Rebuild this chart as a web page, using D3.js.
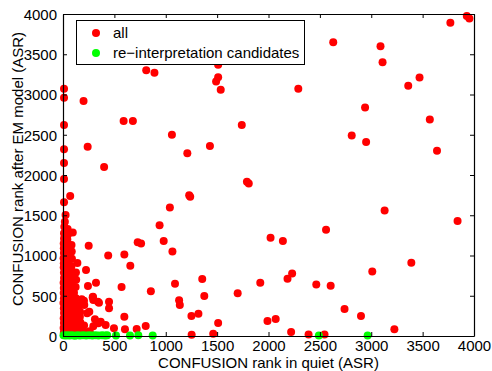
<!DOCTYPE html>
<html>
<head>
<meta charset="utf-8">
<script src="https://cdn.jsdelivr.net/npm/d3@7"></script>
<style>
  html, body { margin: 0; padding: 0; background: #fff; }
  svg { display: block; }
  text { font-family: "Liberation Sans", Arial, Helvetica, sans-serif; }
</style>
</head>
<body>
<svg id="chart" width="492" height="371"></svg>
<script>
// ---- data (x = CONFUSION rank in quiet, y = CONFUSION rank after EM model) ----
const xTicks = [0, 500, 1000, 1500, 2000, 2500, 3000, 3500, 4000];
const yTicks = [0, 500, 1000, 1500, 2000, 2500, 3000, 3500, 4000];
const xLabel = "CONFUSION rank in quiet (ASR)";
const yLabel = "CONFUSION rank after EM model (ASR)";
const seriesNames = ["all", "re\u2212interpretation candidates"];

const allX = [
  10,10,10,10,10,10,200,240,400,590,680,810,890,1060,1210,1430,1510,1510,1490,1535,1740,1790,1808,
  2630,3090,3110,2290,2940,3360,3470,3570,2810,2950,3640,3770,3930,3955,
  3130,3840,2560,2020,2140,3390,3010,2230,2185,1920,2465,2605,2740,2900,1990,2070,3225,2220,2390,2545,
  1700,1040,940,980,1065,1090,1355,1375,1130,1137,1250,1318,1510,1252,1462,855,1228,1238,
  70,10,25,18,13,95,10,250,20,440,597,655,727,760,570,321,243,224,140,107,204,289,350,448,448,235,597,311,344,415,496,603,717,805,
  // dense cluster near the origin
  8,6,9,7,10,8,5,9,7,8,6,10,9,7,8,6,9,8,7,10,
  45,42,48,44,46,43,47,45,41,49,44,46,42,48,45,43,47,44,46,42,48,45,
  85,88,82,86,84,87,83,89,85,81,86,84,88,82,87,85,83,
  125,128,122,126,124,127,121,125,123,128,126,
  165,162,168,164,166,160,182,
  210,205,207,
  260,295,256,295,367,340,292
];
const allY = [
  3070,2960,2620,2320,2150,1950,2920,2350,2100,2670,2670,3300,3270,2500,2270,2360,3370,3215,3160,3060,2620,1915,1893,
  3650,3600,3400,3070,2840,3110,3210,2690,2490,2410,2300,3890,3975,3945,
  1560,1430,1320,1220,1180,910,800,775,710,660,640,625,335,250,185,210,85,50,20,20,
  530,1595,1375,1180,1050,650,708,497,443,385,250,275,160,15,28,555,1750,1730,
  1740,1660,1503,1420,1358,1285,1275,1120,1047,1000,1012,873,1165,1150,610,660,621,820,908,538,439,481,414,427,344,282,240,207,158,137,95,83,87,124,
  // dense cluster near the origin
  40,100,160,220,285,345,410,470,535,595,660,720,785,850,905,965,1030,1090,1150,1210,
  20,75,140,200,265,330,395,455,515,580,640,705,770,830,895,960,1020,1085,1140,1200,1260,1330,
  30,95,160,225,290,355,420,485,545,610,675,740,800,870,960,1050,1130,
  15,80,145,215,280,340,405,470,610,700,790,
  35,105,170,240,300,380,456,
  50,130,385,
  60,120,302,447,178,426,488
];

const candX = [5,25,45,65,90,115,140,165,195,225,255,285,315,345,380,410,430,516,652,733,873,2490,2965];
const candY = [8,5,10,6,9,4,8,6,10,5,8,7,9,5,8,6,10,7,6,8,5,6,6];

// ---- layout ----
const W = 492, H = 371;
const margin = {left: 63, right: 18, top: 14, bottom: 35};
const iw = W - margin.left - margin.right;
const ih = H - margin.top - margin.bottom;
const R = 4;

const svg = d3.select("#chart");
const g = svg.append("g").attr("transform", `translate(${margin.left},${margin.top})`);

const x = d3.scaleLinear().domain([0, 4000]).range([0, iw]);
const y = d3.scaleLinear().domain([0, 4000]).range([ih, 0]);

const allPts = allX.map((v, i) => ({x: v, y: allY[i]}));
const candPts = candX.map((v, i) => ({x: v, y: candY[i]}));

g.append("g").selectAll("circle").data(allPts).join("circle")
  .attr("cx", d => x(d.x)).attr("cy", d => y(d.y)).attr("r", R)
  .attr("fill", "#ff0000");

g.append("g").selectAll("circle").data(candPts).join("circle")
  .attr("cx", d => x(d.x)).attr("cy", d => y(d.y)).attr("r", R)
  .attr("fill", "#00ff00");

// axes (MATLAB style: ticks inward, box)
const fs = "15px";
const axB = g.append("g").attr("transform", `translate(0,${ih})`)
  .call(d3.axisBottom(x).tickValues(xTicks).tickFormat(d3.format("d")).tickSizeInner(-4).tickSizeOuter(0).tickPadding(4));
const axL = g.append("g")
  .call(d3.axisLeft(y).tickValues(yTicks).tickFormat(d3.format("d")).tickSizeInner(-4).tickSizeOuter(0).tickPadding(6));
const axT = g.append("g")
  .call(d3.axisTop(x).tickValues(xTicks).tickFormat("").tickSizeInner(-4).tickSizeOuter(0));
const axR = g.append("g").attr("transform", `translate(${iw},0)`)
  .call(d3.axisRight(y).tickValues(yTicks).tickFormat("").tickSizeInner(-4).tickSizeOuter(0));

[axB, axL, axT, axR].forEach(a => {
  a.selectAll("path").attr("stroke", "#000").attr("stroke-width", 1.2);
  a.selectAll("line").attr("stroke", "#000").attr("stroke-width", 1);
  a.selectAll("text").attr("fill", "#000").style("font-size", fs)
    .style("font-family", "'Liberation Sans', Arial, sans-serif");
});
axB.selectAll("text").attr("dy", "0.71em");
axL.selectAll("text").attr("dy", "0.35em");

// axis titles
svg.append("text")
  .attr("x", margin.left + iw / 2).attr("y", 368)
  .attr("text-anchor", "middle").style("font-size", fs).attr("fill", "#000")
  .text(xLabel);
svg.append("text")
  .attr("transform", `translate(23,${margin.top + ih / 2 - 6}) rotate(-90)`)
  .attr("text-anchor", "middle").style("font-size", fs).attr("fill", "#000")
  .text(yLabel);

// legend
const leg = svg.append("g");
leg.append("rect").attr("x", 76.5).attr("y", 20.5).attr("width", 228).attr("height", 44)
  .attr("fill", "#fff").attr("stroke", "#000").attr("stroke-width", 1);
const legColors = ["#ff0000", "#00ff00"];
seriesNames.forEach((name, i) => {
  const cy = 33 + i * 20;
  leg.append("circle").attr("cx", 96).attr("cy", cy).attr("r", R).attr("fill", legColors[i]);
  leg.append("text").attr("x", 113).attr("y", cy + 5).style("font-size", fs).attr("fill", "#000").text(name);
});
</script>
</body>
</html>
